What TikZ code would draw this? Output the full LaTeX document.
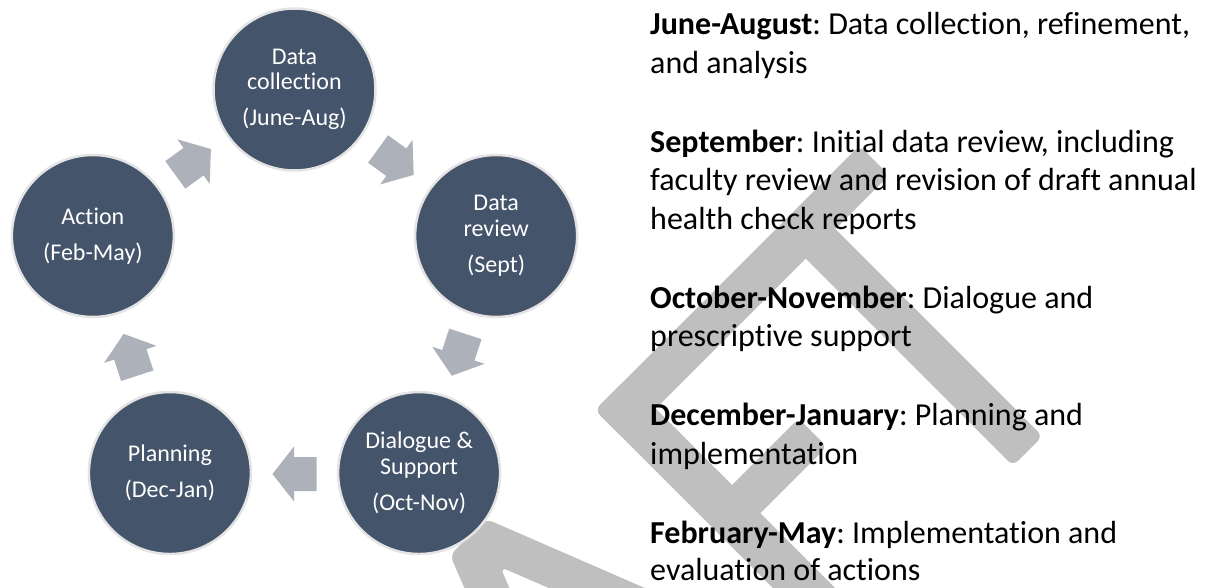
\documentclass[tikz,border=0pt]{standalone}
\usepackage{fontspec}
\setmainfont{Carlito}[Ligatures={NoCommon}]
\usetikzlibrary{calc}
\definecolor{stagefill}{HTML}{44546A}
\definecolor{stagerim}{HTML}{E4E4E4}
\definecolor{flowgray}{RGB}{173,177,185}
\definecolor{markgray}{HTML}{BFBFBF}

\begin{document}
\frenchspacing
\begin{tikzpicture}[x=1pt,y=-1pt,
  stage/.style={circle, fill=stagefill, draw=stagerim, line width=2.5pt,
    minimum size=162pt, inner sep=0pt, align=center, text=white,
    font=\fontsize{24}{25.7}\selectfont},
  note/.style={anchor=base west, inner sep=0pt,
    font=\fontsize{32}{38.5}\selectfont},
  pics/cyclearrow/.style={code={
    \fill[flowgray] (-22,-17) -- (0.5,-17) -- (0.5,-27.5) -- (22,0)
      -- (0.5,27.5) -- (0.5,17) -- (-22,17) -- cycle;}},
  markstroke/.style={fill=markgray, rounded corners=7pt}]

\useasboundingbox (0,0) rectangle (1209,587);

% background lettering, rotated 45 degrees
\begin{scope}
  \clip (0,0) rectangle (1209,587);
  \begin{scope}[shift={(595,410)}, x={(0.70711pt,0.70711pt)}, y={(0.70711pt,-0.70711pt)}]
    % F with the bar of the T
    \fill[markstroke] (0,0) -- (374,0) -- (374,42) -- (0,42) -- cycle;
    \fill[markstroke] (0,0) -- (44,0) -- (44,420) -- (0,420) -- cycle;
    \fill[markstroke] (20,150) -- (138,150) -- (138,190) -- (20,190) -- cycle;
    % stem of the T
    \fill[markstroke] (256,20) -- (298,20) -- (298,335) -- (256,335) -- cycle;
    % top of the A
    \fill[markstroke] (-205,0) -- (-154,0) -- (-23,333) -- (-64,333)
      -- (-178,44) -- (-292,333) -- (-336,333) -- cycle;
  \end{scope}
\end{scope}

% the cycle
\coordinate (hub) at (294.5,301.5);
\node[stage] (collect) at ($(hub)+(-90:212)$) {Data\\collection\\[10.3pt](June-Aug)};
\node[stage] (review)  at ($(hub)+(-18:212)$) {Data\\review\\[10.3pt](Sept)};
\node[stage] (dialog)  at ($(hub)+(54:212)$)  {Dialogue \&\\Support\\[10.3pt](Oct-Nov)};
\node[stage] (plan)    at ($(hub)+(126:212)$) {Planning\\[10.3pt](Dec-Jan)};
\node[stage] (act)     at ($(hub)+(-162:212)$) {Action\\[10.3pt](Feb-May)};

\pic[rotate=-36]  at ($(hub)+(-54:172.5)$)  {cyclearrow};
\pic[rotate=-108] at ($(hub)+(18:172.5)$)   {cyclearrow};
\pic[rotate=180]  at ($(hub)+(90:172.5)$)   {cyclearrow};
\pic[rotate=108]  at ($(hub)+(162:172.5)$)  {cyclearrow};
\pic[rotate=36]   at ($(hub)+(-126:172.5)$) {cyclearrow};

% timeline notes
\node[note] (jun1) at (650,34.5)  {\textbf{June-August}: Data collection, refinement,};
\node[note] (jun2) at (650,73)    {and analysis};
\node[note] (sep1) at (650,152)   {\textbf{September}: Initial data review, including};
\node[note] (sep2) at (650,190.5) {faculty review and revision of draft annual};
\node[note] (sep3) at (650,229)   {health check reports};
\node[note] (oct1) at (650,308)   {\textbf{October-November}: Dialogue and};
\node[note] (oct2) at (650,346.5) {prescriptive support};
\node[note] (dec1) at (650,425.5) {\textbf{December-January}: Planning and};
\node[note] (dec2) at (650,464)   {implementation};
\node[note] (feb1) at (650,543)   {\textbf{February-May}: Implementation and};
\node[note] (feb2) at (650,580.5) {evaluation of actions};
\end{tikzpicture}
\end{document}
